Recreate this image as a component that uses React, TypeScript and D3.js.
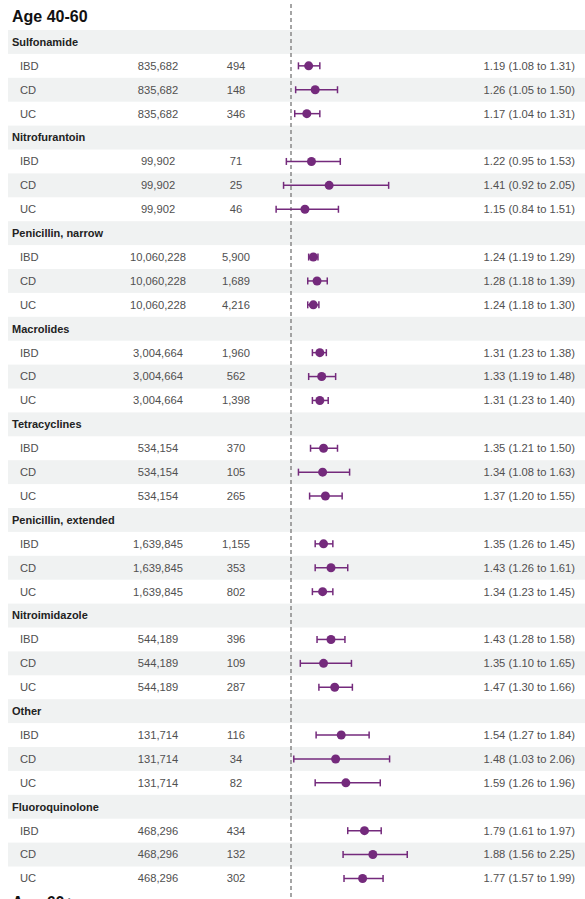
import React from "react";
import * as d3 from "d3";

const title = "Age 40-60";
const nextTitle = "Age 60+";
const groups = [
  "Sulfonamide",
  "Nitrofurantoin",
  "Penicillin, narrow",
  "Macrolides",
  "Tetracyclines",
  "Penicillin, extended",
  "Nitroimidazole",
  "Other",
  "Fluoroquinolone",
];
const subtypes = ["IBD", "CD", "UC"];
const population = ["835,682", "99,902", "10,060,228", "3,004,664", "534,154", "1,639,845", "544,189", "131,714", "468,296"];
const events = [
  ["494", "148", "346"],
  ["71", "25", "46"],
  ["5,900", "1,689", "4,216"],
  ["1,960", "562", "1,398"],
  ["370", "105", "265"],
  ["1,155", "353", "802"],
  ["396", "109", "287"],
  ["116", "34", "82"],
  ["434", "132", "302"],
];
const estimates = [
  [1.19, 1.26, 1.17],
  [1.22, 1.41, 1.15],
  [1.24, 1.28, 1.24],
  [1.31, 1.33, 1.31],
  [1.35, 1.34, 1.37],
  [1.35, 1.43, 1.34],
  [1.43, 1.35, 1.47],
  [1.54, 1.48, 1.59],
  [1.79, 1.88, 1.77],
];
const lowers = [
  [1.08, 1.05, 1.04],
  [0.95, 0.92, 0.84],
  [1.19, 1.18, 1.18],
  [1.23, 1.19, 1.23],
  [1.21, 1.08, 1.2],
  [1.26, 1.26, 1.23],
  [1.28, 1.1, 1.3],
  [1.27, 1.03, 1.26],
  [1.61, 1.56, 1.57],
];
const uppers = [
  [1.31, 1.5, 1.31],
  [1.53, 2.05, 1.51],
  [1.29, 1.39, 1.3],
  [1.38, 1.48, 1.4],
  [1.5, 1.63, 1.55],
  [1.45, 1.61, 1.45],
  [1.58, 1.65, 1.66],
  [1.84, 2.06, 1.96],
  [1.97, 2.25, 1.99],
];

const W = 585;
const H = 899;
const rowH = 23.9;
const top0 = 30;
const purple = "#742a7c";
const band = "#f0f2f2";
const textCol = "#505050";
const font = "'Liberation Sans', Arial, sans-serif";

export default function App() {
  const x = d3.scaleLinear().domain([1, 2]).range([291, 384]);
  const fmt = d3.format(".2f");
  const rows: any[] = [];
  groups.forEach((g, gi) => {
    rows.push({ type: "header", label: g });
    subtypes.forEach((s, si) => {
      rows.push({
        type: "data",
        label: s,
        n: population[gi],
        ev: events[gi][si],
        est: estimates[gi][si],
        lo: lowers[gi][si],
        hi: uppers[gi][si],
        si,
      });
    });
  });
  const y = d3.scaleBand<number>().domain(d3.range(rows.length)).range([top0, top0 + rowH * rows.length]);
  const capH = 3.5;
  const fs = 11.2;

  return (
    <svg width={W} height={H} style={{ position: "absolute", left: 0, top: 0 }} fontFamily={font}>
      <rect width={W} height={H} fill="#fff" />
      {rows.map((r, i) => {
        const y0 = y(i)!;
        const cy = y0 + rowH / 2;
        const shaded = r.type === "header" || r.si === 1;
        return (
          <g key={i}>
            {shaded && <rect x={8} y={y0} width={W - 8} height={rowH} fill={band} />}
            {r.type === "header" ? (
              <text x={12} y={cy} dy="0.35em" fontSize={11} fontWeight="bold" fill="#222">
                {r.label}
              </text>
            ) : (
              <g>
                <text x={20} y={cy} dy="0.35em" fontSize={fs} fill={textCol}>{r.label}</text>
                <text x={158} y={cy} dy="0.35em" fontSize={fs} fill={textCol} textAnchor="middle">{r.n}</text>
                <text x={236} y={cy} dy="0.35em" fontSize={fs} fill={textCol} textAnchor="middle">{r.ev}</text>
                <text x={575} y={cy} dy="0.35em" fontSize={fs} fill={textCol} textAnchor="end">
                  {`${fmt(r.est)} (${fmt(r.lo)} to ${fmt(r.hi)})`}
                </text>
              </g>
            )}
          </g>
        );
      })}
      <line x1={x(1)} x2={x(1)} y1={4} y2={H} stroke="#888" strokeWidth={1.5} strokeDasharray="4,3" />
      {rows.map((r, i) => {
        if (r.type !== "data") return null;
        const cy = y(i)! + rowH / 2;
        return (
          <g key={"m" + i}>
            <line x1={x(r.lo)} x2={x(r.hi)} y1={cy} y2={cy} stroke={purple} strokeWidth={1.5} />
            <line x1={x(r.lo)} x2={x(r.lo)} y1={cy - capH} y2={cy + capH} stroke={purple} strokeWidth={1.5} />
            <line x1={x(r.hi)} x2={x(r.hi)} y1={cy - capH} y2={cy + capH} stroke={purple} strokeWidth={1.5} />
            <circle cx={x(r.est)} cy={cy} r={4.5} fill={purple} />
          </g>
        );
      })}
      <text x={12} y={22} fontSize={16} fontWeight="bold" fill="#111">{title}</text>
      <text x={12} y={908} fontSize={16} fontWeight="bold" fill="#111">{nextTitle}</text>
    </svg>
  );
}
